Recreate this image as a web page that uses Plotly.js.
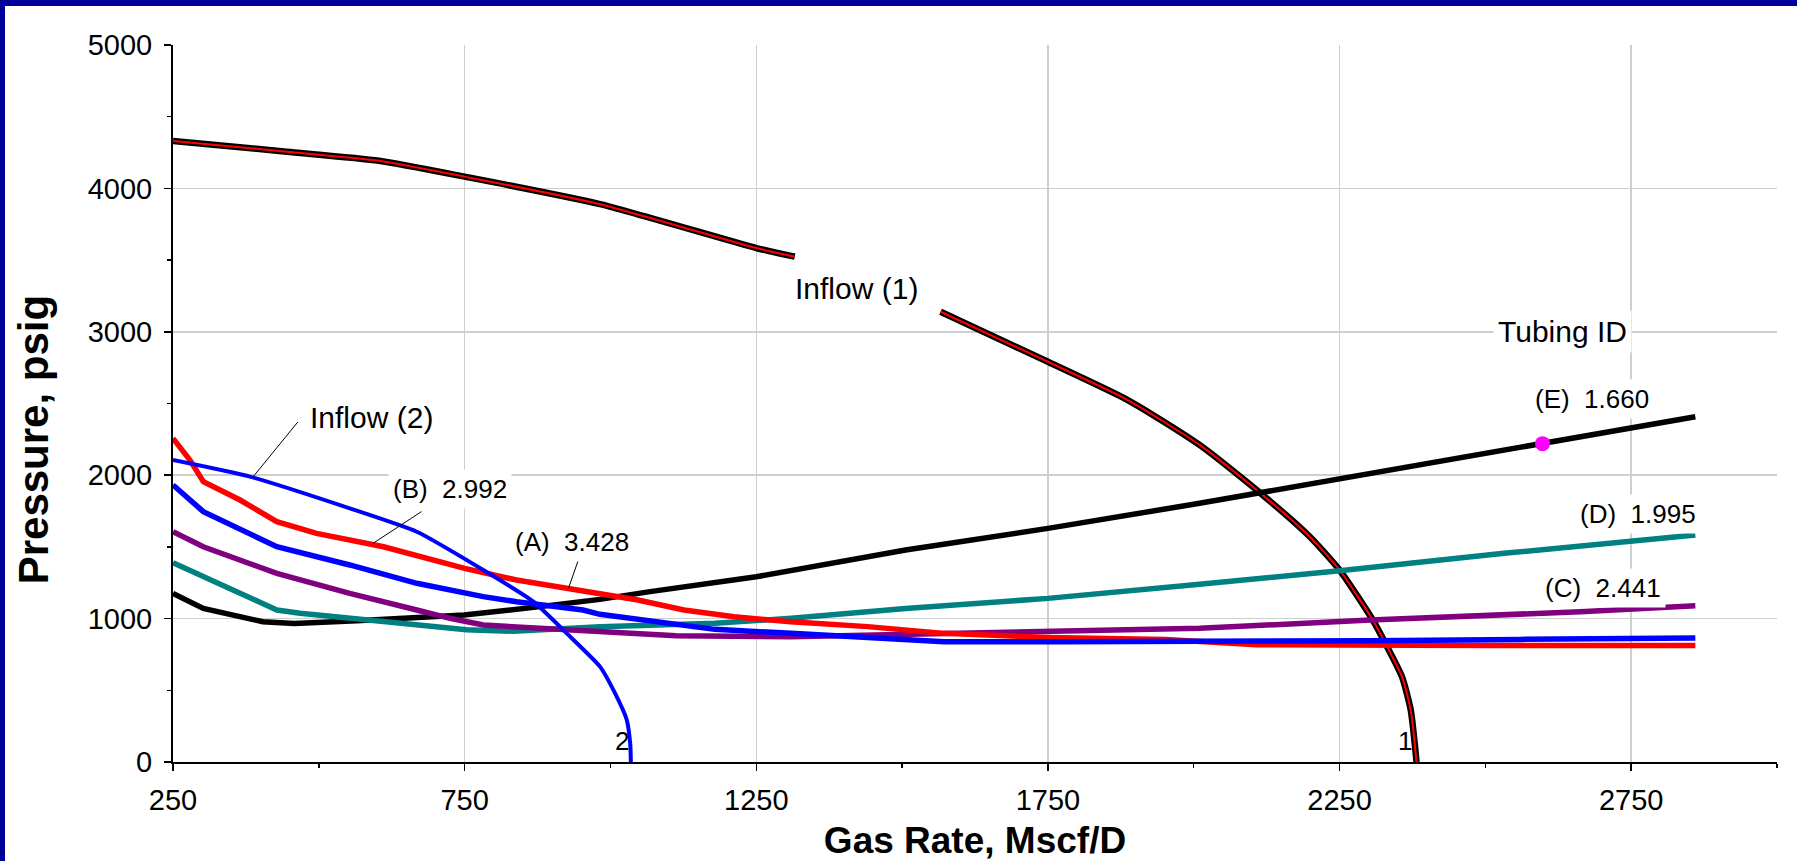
<!DOCTYPE html>
<html>
<head>
<meta charset="utf-8">
<script src="https://cdn.plot.ly/plotly-3.0.1.min.js"></script>
<style>
html, body { margin: 0; padding: 0; background: #ffffff; }
#wrap { position: absolute; left: 0; top: 0; width: 1797px; height: 861px; background: #ffffff;
        border-top: 6px solid #000099; border-left: 5px solid #000099; box-sizing: border-box; }
#chart { width: 1792px; height: 855px; }
</style>
</head>
<body>
<div id="wrap"><div id="chart"></div></div>
<script>
// ---- Inflow performance curves ----
var inflow1X = [250, 445, 603, 750, 982, 1250, 1316, null, 1566, 1750, 1887, 2010, 2115, 2199, 2250, 2307, 2330, 2357, 2372, 2382];
var inflow1Y = [4331, 4256, 4193, 4082, 3890, 3584, 3524, null, 3140, 2791, 2524, 2211, 1873, 1571, 1339, 990, 816, 595, 363, 0];

var inflow2X = [250, 382, 553, 668, 782, 868, 925, 982, 1008, 1028, 1034, 1035];
var inflow2Y = [2106, 1990, 1769, 1606, 1339, 1118, 897, 665, 478, 293, 120, 0];

// ---- Tubing performance curves ----
var tubeAX = [250, 279, 302, 365, 428, 496, 611, 750, 839, 925, 1047, 1126, 1212, 1309, 1441, 1572, 1750, 1952, 2108, 2500, 2860];
var tubeAY = [2257, 2106, 1955, 1827, 1676, 1594, 1501, 1350, 1269, 1211, 1130, 1060, 1013, 978, 944, 897, 869, 855, 818, 812, 812];

var tubeBX = [250, 302, 428, 553, 668, 782, 839, 953, 982, 1068, 1179, 1310, 1441, 1572, 1769, 2010, 2300, 2560, 2860];
var tubeBY = [1932, 1746, 1501, 1374, 1246, 1153, 1118, 1060, 1030, 985, 925, 897, 869, 839, 839, 839, 845, 855, 865];

var tubeCX = [250, 302, 428, 553, 668, 725, 782, 870, 953, 1068, 1113, 1310, 1441, 1638, 1835, 2010, 2303, 2663, 2860];
var tubeCY = [1606, 1501, 1315, 1176, 1060, 1002, 955, 935, 920, 897, 880, 874, 885, 897, 920, 932, 990, 1048, 1090];

var tubeDX = [250, 302, 428, 468, 553, 668, 753, 833, 896, 982, 1179, 1310, 1506, 1750, 2010, 2250, 2532, 2860];
var tubeDY = [1390, 1292, 1060, 1037, 1002, 955, 922, 912, 925, 944, 967, 1002, 1071, 1141, 1240, 1334, 1455, 1583];

var tubeEX = [250, 302, 404, 458, 565, 668, 749, 872, 982, 1068, 1250, 1506, 1750, 2010, 2250, 2598, 2860];
var tubeEY = [1176, 1071, 978, 965, 985, 1005, 1025, 1080, 1134, 1188, 1292, 1478, 1629, 1804, 1973, 2220, 2408];

var markerX = [2598];
var markerY = [2220];

// ---- Axis ticks ----
var xTickVals = [250, 750, 1250, 1750, 2250, 2750];
var yTickVals = [0, 1000, 2000, 3000, 4000, 5000];

var FONT = 'Liberation Sans, Arial, Helvetica, sans-serif';

var traces = [
  {x: inflow1X, y: inflow1Y, mode: 'lines', line: {color: '#000000', width: 6.5, shape: 'spline', smoothing: 0.6}, connectgaps: false},
  {x: inflow1X, y: inflow1Y, mode: 'lines', line: {color: '#ff0000', width: 2, shape: 'spline', smoothing: 0.6}, connectgaps: false},
  {x: tubeEX, y: tubeEY, mode: 'lines', line: {color: '#000000', width: 5.5}},
  {x: tubeDX, y: tubeDY, mode: 'lines', line: {color: '#008080', width: 5.5}},
  {x: tubeCX, y: tubeCY, mode: 'lines', line: {color: '#800080', width: 5.5}},
  {x: tubeAX, y: tubeAY, mode: 'lines', line: {color: '#ff0000', width: 5.5}},
  {x: tubeBX, y: tubeBY, mode: 'lines', line: {color: '#0000ff', width: 5.5}},
  {x: inflow2X, y: inflow2Y, mode: 'lines', line: {color: '#0000ff', width: 4, shape: 'spline', smoothing: 0.5}},
  {x: markerX, y: markerY, mode: 'markers', marker: {color: '#ff00ff', size: 15, symbol: 'circle'}}
];

function lbl(x, y, text, size, bg) {
  return {x: x, y: y, xref: 'x', yref: 'y', text: text, showarrow: false,
          font: {family: FONT, size: size, color: '#000000'},
          bgcolor: bg ? '#ffffff' : 'rgba(0,0,0,0)', borderpad: 4,
          xanchor: 'center', yanchor: 'middle'};
}

var annotations = [
  lbl(1422, 3305, 'Inflow (1)', 30, false),
  lbl(591, 2399, 'Inflow (2)', 30, false),
  lbl(2633, 3005, 'Tubing ID', 30, true),
  lbl(2682, 2531, '(E)\u00a0 1.660', 26, true),
  lbl(2761, 1729, '(D)\u00a0 1.995', 26, true),
  lbl(2701, 1213, '(C)\u00a0 2.441', 26, true),
  lbl(725, 1904, '(B)\u00a0 2.992', 26, true),
  lbl(934, 1534, '(A)\u00a0 3.428', 26, true),
  lbl(1020, 146, '2', 26, false),
  lbl(2363, 146, '1', 26, false),
  {xref: 'paper', yref: 'paper', x: -0.0873, y: 0.45, text: 'Pressure, psig', textangle: -90,
   showarrow: false, xanchor: 'center', yanchor: 'middle',
   font: {family: FONT, size: 42, color: '#000000', weight: 'bold'}}
];

var leader = {color: '#000000', width: 1};
var shapes = [
  {type: 'line', xref: 'x', yref: 'y', x0: 464, y0: 2371, x1: 387, y1: 1987, line: leader},
  {type: 'line', xref: 'x', yref: 'y', x0: 676, y0: 1746, x1: 593, y1: 1525, line: leader},
  {type: 'line', xref: 'x', yref: 'y', x0: 945, y0: 1409, x1: 928, y1: 1211, line: leader}
];

var layout = {
  width: 1792, height: 855,
  margin: {l: 168, r: 20, t: 39, b: 99, pad: 0},
  paper_bgcolor: '#ffffff', plot_bgcolor: '#ffffff',
  showlegend: false,
  font: {family: FONT, color: '#000000'},
  xaxis: {
    range: [250, 3000], tickmode: 'array', tickvals: xTickVals, ticktext: xTickVals.map(String),
    ticks: 'outside', ticklen: 7, tickwidth: 1.5, tickcolor: '#000000',
    showline: true, linecolor: '#000000', linewidth: 2,
    showgrid: true, gridcolor: '#cfcfcf', gridwidth: 1.5, zeroline: false,
    minor: {tickmode: 'linear', tick0: 250, dtick: 250, ticks: 'outside', ticklen: 4, tickcolor: '#000000', tickwidth: 1.5, showgrid: false},
    tickfont: {family: FONT, size: 29, color: '#000000'},
    ticklabelstandoff: 4,
    title: {text: 'Gas Rate, Mscf/D', standoff: 22, font: {family: FONT, size: 37, color: '#000000', weight: 'bold'}},
    automargin: false, fixedrange: true
  },
  yaxis: {
    range: [0, 5000], tickmode: 'array', tickvals: yTickVals, ticktext: yTickVals.map(String),
    ticks: 'outside', ticklen: 7, tickwidth: 1.5, tickcolor: '#000000',
    showline: true, linecolor: '#000000', linewidth: 2,
    showgrid: true, gridcolor: '#cfcfcf', gridwidth: 1.5, zeroline: false,
    minor: {tickmode: 'linear', tick0: 0, dtick: 500, ticks: 'outside', ticklen: 4, tickcolor: '#000000', tickwidth: 1.5, showgrid: false},
    tickfont: {family: FONT, size: 29, color: '#000000'},
    ticklabelstandoff: 6,
    automargin: false, fixedrange: true
  },
  annotations: annotations,
  shapes: shapes
};

Plotly.newPlot('chart', traces, layout, {displayModeBar: false, staticPlot: true});
</script>
</body>
</html>
